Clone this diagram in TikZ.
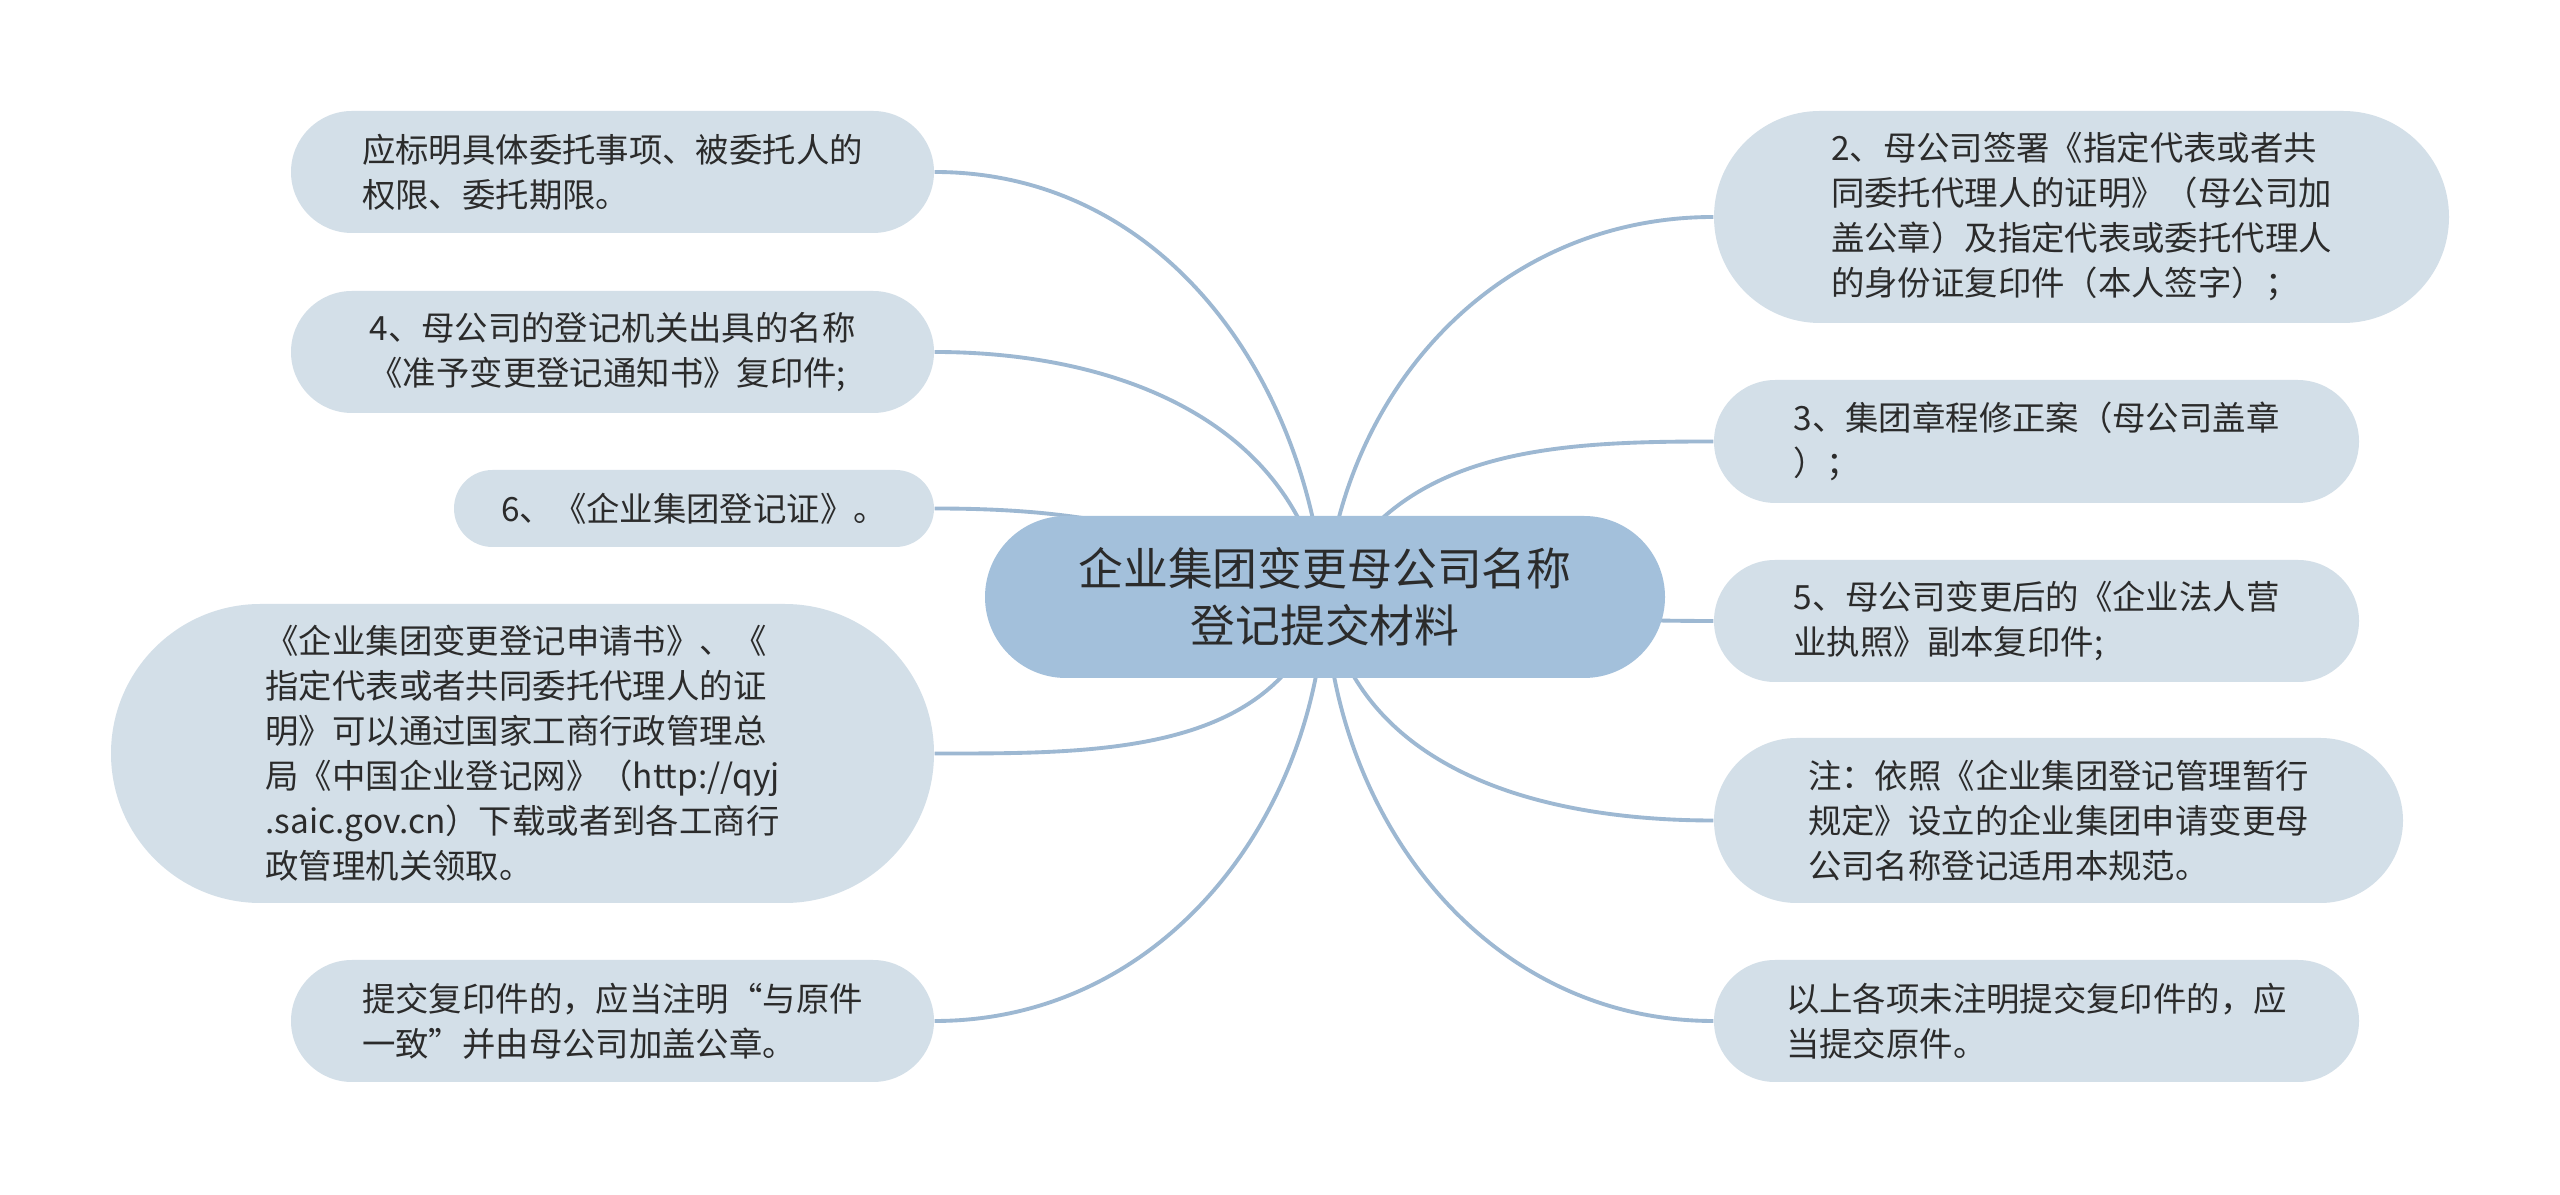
\documentclass[tikz,border=0pt]{standalone}
\usepackage{fontspec}
\setmainfont{Noto Sans CJK SC}
\usetikzlibrary{shapes.misc,backgrounds}
\definecolor{rootfill}{HTML}{A3C0DB}
\definecolor{leaffill}{HTML}{D3DFE8}
\definecolor{linkcol}{HTML}{9DB8D2}
\definecolor{txt}{HTML}{2B2B2B}
\begin{document}
\begin{tikzpicture}[line cap=round, line join=round,
	leaf/.style={rounded rectangle,fill=leaffill,text=txt,align=left,inner sep=0pt,font=\fontsize{9.5}{12.8}\selectfont},
	rootbox/.style={rounded rectangle,fill=rootfill,text=txt,align=center,inner sep=0pt,font=\fontsize{12.75}{16.2}\selectfont},
	link/.style={draw=linkcol,line width=1.1pt}]
	\useasboundingbox (0,0) rectangle (25.6,11.95);
	\node[rootbox,minimum width=6.8cm,minimum height=1.62cm] (root) at (13.25,5.98) {企业集团变更母公司名称\\登记提交材料};
	\node[leaf,minimum width=6.43cm,minimum height=1.22cm] (l1) at (6.125,10.23) {应标明具体委托事项、被委托人的\\权限、委托期限。};
	\node[leaf,minimum width=6.43cm,minimum height=1.22cm] (l2) at (6.125,8.43) {4、母公司的登记机关出具的名称\\《准予变更登记通知书》复印件;};
	\node[leaf,minimum width=4.8cm,minimum height=0.77cm] (l3) at (6.94,6.865) {6、《企业集团登记证》。};
	\node[leaf,minimum width=8.23cm,minimum height=2.99cm] (l4) at (5.225,4.415) {《企业集团变更登记申请书》、《\\指定代表或者共同委托代理人的证\\明》可以通过国家工商行政管理总\\局《中国企业登记网》（http://qyj\\.saic.gov.cn）下载或者到各工商行\\政管理机关领取。};
	\node[leaf,minimum width=6.43cm,minimum height=1.22cm] (l5) at (6.125,1.74) {提交复印件的，应当注明“与原件\\一致”并由母公司加盖公章。};
	\node[leaf,minimum width=7.35cm,minimum height=2.12cm] (r1) at (20.815,9.78) {2、母公司签署《指定代表或者共\\同委托代理人的证明》（母公司加\\盖公章）及指定代表或委托代理人\\的身份证复印件（本人签字）；};
	\node[leaf,minimum width=6.45cm,minimum height=1.23cm] (r2) at (20.365,7.535) {3、集团章程修正案（母公司盖章\\）；};
	\node[leaf,minimum width=6.45cm,minimum height=1.22cm] (r3) at (20.365,5.74) {5、母公司变更后的《企业法人营\\业执照》副本复印件;};
	\node[leaf,minimum width=6.89cm,minimum height=1.65cm] (r4) at (20.585,3.745) {注：依照《企业集团登记管理暂行\\规定》设立的企业集团申请变更母\\公司名称登记适用本规范。};
	\node[leaf,minimum width=6.45cm,minimum height=1.22cm] (r5) at (20.365,1.74) {以上各项未注明提交复印件的，应\\当提交原件。};
	\begin{scope}[on background layer]
		\fill[white] (0,0) rectangle (25.6,11.95);
		\foreach \n/\o in {l1/95,l2/100,l3/155,l4/-105,l5/-92}{\draw[link] (root.center) to[out=\o,in=0] (\n.east);}
		\foreach \n/\o in {r1/85,r2/65,r3/-5,r4/-80,r5/-88}{\draw[link] (root.center) to[out=\o,in=180] (\n.west);}
	\end{scope}
\end{tikzpicture}
\end{document}
